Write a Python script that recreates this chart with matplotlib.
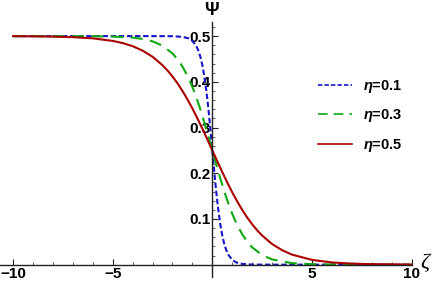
import numpy as np
import matplotlib
matplotlib.use("Agg")
import matplotlib.pyplot as plt

plt.rcParams['font.family'] = ['Liberation Sans', 'DejaVu Sans']
plt.rcParams['mathtext.fontset'] = 'custom'
plt.rcParams['mathtext.it'] = 'Liberation Sans:italic:bold'
plt.rcParams['mathtext.rm'] = 'Liberation Sans:bold'

# values
zeta_01 = [-10, -3, -2, -1.5, -1.2, -1.0, -0.8, -0.7, -0.6, -0.5, -0.4, -0.3, -0.25, -0.2,
           -0.15, -0.1, -0.05, 0, 0.05, 0.1, 0.15, 0.2, 0.25, 0.3, 0.4, 0.5, 0.6, 0.7,
           0.8, 1.0, 1.2, 1.5, 2, 3, 10]
psi_01 = [0.5, 0.5, 0.4998, 0.4984, 0.4951, 0.4895, 0.478, 0.4682, 0.4548, 0.4362, 0.4116,
          0.3801, 0.3617, 0.3417, 0.3202, 0.2975, 0.274, 0.25, 0.226, 0.2025, 0.1798,
          0.1583, 0.1383, 0.1199, 0.0884, 0.0638, 0.0452, 0.0318, 0.022, 0.0105, 0.0049,
          0.0016, 0.0002, 0.0, 0.0]

zeta_03 = [-10, -6, -5, -4, -3.5, -3, -2.5, -2, -1.75, -1.5, -1.2, -1.0, -0.9, -0.8, -0.7,
           -0.6, -0.4, -0.3, -0.2, -0.1, 0, 0.1, 0.2, 0.3, 0.4, 0.6, 0.7, 0.8, 0.9, 1.0,
           1.2, 1.5, 1.75, 2, 2.5, 3, 4, 5, 6, 10]
psi_03 = [0.5, 0.4997, 0.499, 0.4967, 0.4938, 0.4885, 0.479, 0.4621, 0.4495, 0.4335,
          0.4088, 0.3886, 0.3774, 0.3655, 0.3529, 0.3396, 0.3112, 0.2963, 0.2811, 0.2656,
          0.25, 0.2344, 0.2189, 0.2037, 0.1888, 0.1604, 0.1471, 0.1345, 0.1226, 0.1114,
          0.0912, 0.0665, 0.0505, 0.0379, 0.021, 0.0115, 0.0033, 0.001, 0.0003, 0.0]

zeta_05 = [-10, -9, -8, -7, -6, -5, -4.5, -4, -3.5, -3, -2.5, -2.25, -2, -1.75, -1.5,
           -1.25, -1, -0.75, -0.5, -0.25, 0, 0.25, 0.5, 0.75, 1, 1.25, 1.5, 1.75, 2,
           2.25, 2.5, 3, 3.5, 4, 5, 6, 7, 8, 10]
psi_05 = [0.4998, 0.4995, 0.4989, 0.4977, 0.4951, 0.4895, 0.4848, 0.478, 0.4682, 0.4548,
          0.4362, 0.4248, 0.4116, 0.3968, 0.3801, 0.3617, 0.3417, 0.3202, 0.2975, 0.274,
          0.25, 0.226, 0.2025, 0.1798, 0.1583, 0.1383, 0.1199, 0.1032, 0.0884, 0.0752,
          0.0638, 0.0452, 0.0318, 0.022, 0.0105, 0.0049, 0.0023, 0.0011, 0.0002]

labels = [r"$\eta$=0.1", r"$\eta$=0.3", r"$\eta$=0.5"]
x_major = [-10, -5, 5, 10]
y_major = [0.1, 0.2, 0.3, 0.4, 0.5]

fig = plt.figure(figsize=(4.36, 2.82), dpi=100)
ax = fig.add_axes([0, 0, 1, 1])
ax.set_xlim(-10.66, 11.23)
ax.set_ylim(-0.0379, 0.579)

lw = 1.5
l1, = ax.plot(zeta_01, psi_01, color='#1414c8', lw=lw, dashes=(2.6, 1.3), label=labels[0])
l2, = ax.plot(zeta_03, psi_03, color='#10a810', lw=lw, dashes=(5.8, 3.6), label=labels[1])
l3, = ax.plot(zeta_05, psi_05, color='#aa0000', lw=lw, label=labels[2])

for s in ['top', 'right']:
    ax.spines[s].set_visible(False)
ax.spines['left'].set_position(('data', 0))
ax.spines['bottom'].set_position(('data', 0))
ax.spines['left'].set_bounds(-0.027, 0.53)
ax.spines['bottom'].set_bounds(-10.66, 10.03)
for s in ['left', 'bottom']:
    ax.spines[s].set_linewidth(1.0)
    ax.spines[s].set_color('#222222')

ax.set_xticks(x_major)
ax.set_xticks(np.arange(-10, 11, 1), minor=True)
ax.set_yticks(y_major)
ax.set_yticks(np.arange(0.0, 0.53, 0.02), minor=True)
ax.set_xticklabels(['\u221210', '\u22125', '5', '10'])
ax.set_yticklabels(['0.1', '0.2', '0.3', '0.4', '0.5'])
ax.tick_params(which='major', direction='in', length=4, width=0.8, color='#222222',
               labelsize=11, pad=1.5)
ax.tick_params(which='minor', direction='in', length=2, width=0.6, color='#444444')
for t in ax.get_xticklabels() + ax.get_yticklabels():
    t.set_fontweight('bold')

ax.text(-0.05, 0.556, "\u03a8", ha='center', va='center', fontsize=13, fontweight='bold')
ax.text(10.65, 0.002, "\u03b6", ha='center', va='center', fontsize=16,
        family='Liberation Serif', style='italic')

leg = ax.legend(handles=[l1, l2, l3], loc='upper left', bbox_to_anchor=(0.70, 0.77),
                frameon=False, handlelength=2.3, handletextpad=0.75, labelspacing=0.85,
                prop={'weight': 'bold', 'size': 10.5})
for h in leg.legend_handles:
    h.set_linewidth(1.2)

fig.savefig('out.png', dpi=100)
